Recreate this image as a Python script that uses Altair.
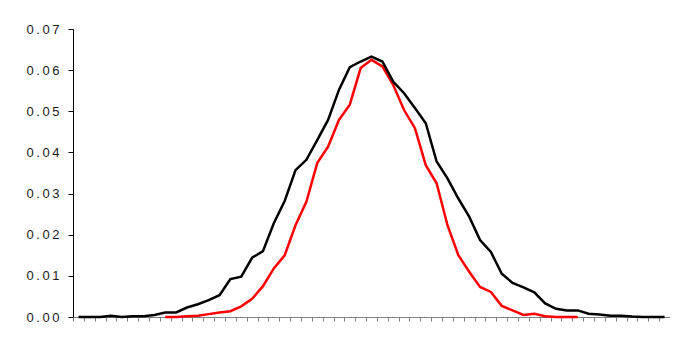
import altair as alt
import pandas as pd

# Category positions (55 categories, drawn at their centres)
n_cat = 55
black_vals = [0, 0, 0, 0.0003, 0, 0.0002, 0.0002, 0.0005, 0.0011, 0.0011,
              0.0023, 0.0031, 0.0041, 0.0053, 0.0092, 0.0098, 0.0144, 0.0160, 0.0228, 0.0282,
              0.0357, 0.0382, 0.0430, 0.0479, 0.0552, 0.0607, 0.0621, 0.0633, 0.0621, 0.0572,
              0.0544, 0.0508, 0.0471, 0.0378, 0.0337, 0.0288, 0.0244, 0.0187, 0.0158, 0.0105,
              0.0083, 0.0072, 0.0060, 0.0033, 0.0020, 0.0016, 0.0016, 0.0008, 0.0006, 0.0003,
              0.0003, 0.0001, 0, 0, 0]
red_vals = [None] * 8 + [0, 0, 0.0002, 0.0003, 0.0007, 0.0011, 0.0014, 0.0026, 0.0044, 0.0075,
                         0.0118, 0.0150, 0.0223, 0.0280, 0.0374, 0.0414, 0.0479, 0.0516, 0.0605, 0.0625,
                         0.0609, 0.0564, 0.0503, 0.0459, 0.0369, 0.0325, 0.0223, 0.0150, 0.0110, 0.0073,
                         0.0061, 0.0027, 0.0016, 0.0005, 0.0008, 0.0002, 0, 0, 0] + [None] * 8
y_ticks = [0.0, 0.01, 0.02, 0.03, 0.04, 0.05, 0.06, 0.07]

assert len(black_vals) == n_cat and len(red_vals) == n_cat

black_df = pd.DataFrame({"pos": [i + 0.5 for i in range(n_cat)], "value": black_vals})
red_df = pd.DataFrame({"pos": [i + 0.5 for i in range(n_cat)], "value": red_vals}).dropna()

x_enc = alt.X("pos:Q",
              scale=alt.Scale(domain=[0, n_cat], nice=False, zero=False),
              axis=alt.Axis(values=list(range(n_cat + 1)), labels=False, title=None,
                            grid=False, tickSize=4, tickColor="#808080",
                            domainColor="#808080", domainWidth=1, tickWidth=1))
y_enc = alt.Y("value:Q",
              scale=alt.Scale(domain=[0, 0.07], nice=False),
              axis=alt.Axis(values=y_ticks, title=None, grid=False,
                            labelExpr="replace(format(datum.value, '.2f'), regexp('(.)(?=.)', 'g'), '$1\u2009')",
                            labelFont="Liberation Sans", labelFontSize=13,
                            labelColor="#1a1a1a", labelPadding=9,
                            tickSize=5, tickColor="#000000", domainColor="#000000",
                            domainWidth=1, tickWidth=1))

red_line = alt.Chart(red_df).mark_line(color="#ff0000", strokeWidth=2.5).encode(x=x_enc, y=y_enc)
black_line = alt.Chart(black_df).mark_line(color="#000000", strokeWidth=2.5).encode(x=x_enc, y=y_enc)

chart = alt.layer(red_line, black_line).properties(
    width=597, height=288,
    autosize=alt.AutoSizeParams(type="none"),
    padding={"left": 65, "top": 21, "right": 0, "bottom": 13},
    background="#ffffff",
).configure_view(stroke=None)

chart.save("out.html", embed_options={"renderer": "svg", "actions": False})
